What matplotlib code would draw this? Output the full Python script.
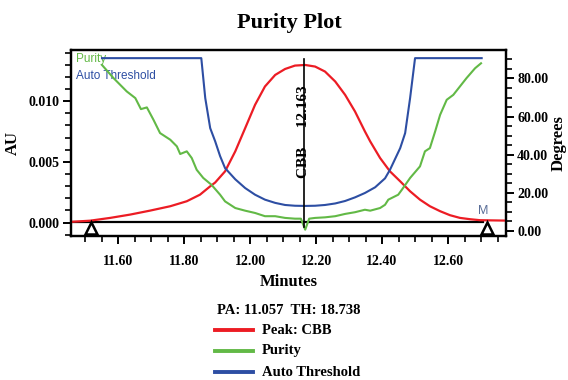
import matplotlib
matplotlib.use("Agg")
import matplotlib.pyplot as plt
from matplotlib.lines import Line2D
from matplotlib.ticker import MultipleLocator

# --- data ---
peak_t = [11.455, 11.515, 11.576, 11.636, 11.697, 11.758, 11.808, 11.848, 11.879,
          11.894, 11.924, 11.955, 11.985, 12.015, 12.045, 12.076, 12.106, 12.136,
          12.167, 12.197, 12.227, 12.258, 12.288, 12.318, 12.348, 12.364, 12.394,
          12.424, 12.455, 12.485, 12.515, 12.545, 12.576, 12.606, 12.636, 12.667,
          12.697, 12.790]
peak_au = [0.00006, 0.00016, 0.00039, 0.00066, 0.00099, 0.00135, 0.00176, 0.00230, 0.00299,
           0.00330, 0.00422, 0.00587, 0.00778, 0.00970, 0.01121, 0.01216, 0.01265, 0.01293,
           0.01298, 0.01285, 0.01244, 0.01162, 0.01052, 0.00915, 0.00751, 0.00669, 0.00532,
           0.00422, 0.00340, 0.00258, 0.00189, 0.00135, 0.00094, 0.00061, 0.00039, 0.00028,
           0.00020, 0.00016]

purity_t = [11.551, 11.586, 11.626, 11.652, 11.669, 11.687, 11.707, 11.727, 11.758,
            11.778, 11.788, 11.808, 11.823, 11.838, 11.858, 11.883, 11.909, 11.924,
            11.955, 11.985, 12.015, 12.045, 12.076, 12.106, 12.136, 12.154, 12.167,
            12.179, 12.197, 12.227, 12.258, 12.288, 12.318, 12.348, 12.364, 12.394,
            12.409, 12.419, 12.449, 12.460, 12.485, 12.515, 12.530, 12.545, 12.561,
            12.576, 12.596, 12.616, 12.636, 12.656, 12.682, 12.700]
purity_deg = [87.1, 80.2, 73.2, 69.7, 63.9, 64.8, 58.3, 51.3, 47.8,
              44.3, 40.3, 41.7, 38.2, 32.0, 27.7, 24.1, 18.9, 15.4,
              11.9, 10.5, 9.3, 7.6, 7.6, 6.7, 6.3, 6.3, 0.5,
              6.3, 6.7, 7.0, 7.6, 8.8, 9.7, 11.0, 10.5, 11.9,
              13.6, 16.3, 18.9, 21.5, 27.7, 33.8, 41.7, 43.4, 52.2,
              60.9, 68.8, 71.4, 75.8, 80.2, 85.4, 88.0]

thresh_t = [11.551, 11.852, 11.864, 11.879, 11.894, 11.909, 11.924, 11.955, 11.985,
            12.015, 12.045, 12.076, 12.106, 12.136, 12.167, 12.197, 12.227, 12.258,
            12.288, 12.318, 12.348, 12.379, 12.409, 12.424, 12.455, 12.470, 12.485,
            12.500, 12.702]
thresh_deg = [90.7, 90.7, 69.7, 53.9, 47.0, 39.2, 32.9, 27.0, 22.4,
              18.9, 16.3, 14.6, 13.5, 13.1, 13.0, 13.1, 13.5, 14.3,
              15.6, 17.5, 19.8, 22.8, 27.5, 32.0, 43.4, 51.3, 69.7,
              90.7, 90.7]

peak_rt = 12.163
baseline_t = [11.455, 12.705]
baseline_au = [0.00005, 0.00005]
marker_t = [11.518, 12.718]
marker_au = [-0.00045, -0.00045]

RED = "#ec1c24"
GREEN = "#62b946"
BLUE = "#2d4ea3"
SERIF = "Liberation Serif"

fig = plt.figure(figsize=(5.68, 3.8), dpi=100)
ax = fig.add_axes([0.125, 0.379, 0.766, 0.489])
ax2 = ax.twinx()

ax.plot(peak_t, peak_au, color=RED, lw=1.6, zorder=3)
ax.plot(baseline_t, baseline_au, color="black", lw=1.6, zorder=2)
ax.plot(marker_t, marker_au, ls="none", marker="^", ms=8, mfc="white",
        mec="black", mew=1.8, zorder=4)
ax.text(12.706, 0.0005, "M", color="#5a6e98", fontsize=9, ha="center",
        va="bottom", family="Liberation Sans")

ax2.plot(thresh_t, thresh_deg, color=BLUE, lw=1.5)
ax2.plot(purity_t, purity_deg, color=GREEN, lw=1.5)
ax2.plot([peak_rt, peak_rt], [2.0, 90.0], color="black", lw=1.2)
ax2.text(peak_rt, 52, "CBB     12.163", rotation=90, ha="center", va="center",
         fontsize=11, fontweight="bold", family=SERIF)

ax.set_xlim(11.457, 12.776)
ax.set_ylim(-0.0011, 0.0142)
ax2.set_ylim(-2.8, 94.9)

ax.xaxis.set_major_locator(MultipleLocator(0.2))
ax.xaxis.set_minor_locator(MultipleLocator(0.05))
ax.yaxis.set_major_locator(MultipleLocator(0.005))
ax.yaxis.set_minor_locator(MultipleLocator(0.001))
ax2.yaxis.set_major_locator(MultipleLocator(20))
ax2.yaxis.set_minor_locator(MultipleLocator(5))
ax.xaxis.set_major_formatter(plt.FormatStrFormatter("%.2f"))
ax.yaxis.set_major_formatter(plt.FormatStrFormatter("%.3f"))
ax2.yaxis.set_major_formatter(plt.FormatStrFormatter("%.2f"))

for a in (ax, ax2):
    a.tick_params(which="major", length=6, width=1.4, labelsize=10, pad=2)
    a.tick_params(which="minor", length=4, width=1.2)
    for s in a.spines.values():
        s.set_linewidth(1.6)
    for lab in a.get_xticklabels() + a.get_yticklabels():
        lab.set_family(SERIF)
        lab.set_fontweight("bold")
ax.tick_params(axis="x", which="major", pad=8)

ax.set_xlabel("Minutes", fontsize=12, fontweight="bold", family=SERIF, labelpad=4)
ax.set_ylabel("AU", fontsize=12, fontweight="bold", family=SERIF, labelpad=6)
ax2.set_ylabel("Degrees", fontsize=12, fontweight="bold", family=SERIF, labelpad=2)

ax.text(0.012, 0.985, "Purity", transform=ax.transAxes, color=GREEN,
        fontsize=8.5, va="top", family="Liberation Sans")
ax.text(0.012, 0.895, "Auto Threshold", transform=ax.transAxes, color=BLUE,
        fontsize=8.5, va="top", family="Liberation Sans")

fig.text(0.51, 0.940, "Purity Plot", ha="center", va="center", fontsize=16,
         fontweight="bold", family=SERIF)

# bottom legend
fig.text(0.509, 0.184, "PA: 11.057  TH: 18.738", ha="center", va="center",
         fontsize=10.5, fontweight="bold", family=SERIF)
legend_rows = [("Peak: CBB", RED, 0.131), ("Purity", GREEN, 0.077),
               ("Auto Threshold", BLUE, 0.021)]
for label, color, yy in legend_rows:
    fig.add_artist(Line2D([0.379, 0.445], [yy, yy], color=color, lw=2.8,
                          transform=fig.transFigure))
    fig.text(0.461, yy, label, ha="left", va="center", fontsize=10.5,
             fontweight="bold", family=SERIF)

fig.savefig("out.png", dpi=100)
